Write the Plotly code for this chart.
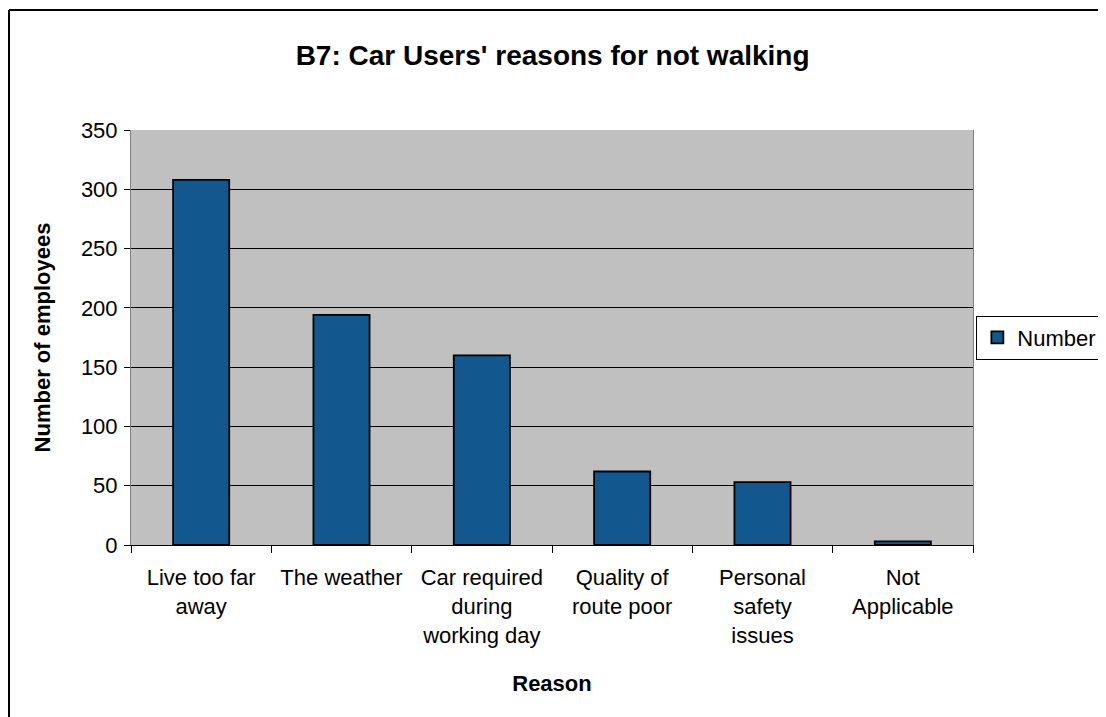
import plotly.graph_objects as go

# ── DATA ─────────────────────────────────────
reasons = [
    "Live too far<br>away",
    "The weather",
    "Car required<br>during<br>working day",
    "Quality of<br>route poor",
    "Personal<br>safety<br>issues",
    "Not<br>Applicable",
]
numbers = [308, 194, 160, 62, 53, 3]
y_ticks = [0, 50, 100, 150, 200, 250, 300, 350]

# ── LAYOUT CONSTANTS ─────────────────────────
# page has an 8px body margin, so the figure is shrunk to fit the window
W, H = 1098, 709
M = dict(l=123, r=133, t=122, b=172)
FONT = "Liberation Sans, Arial, sans-serif"
BAR_COLOR = "#12578D"

fig = go.Figure(go.Bar(
    x=reasons,
    y=numbers,
    name="Number",
    width=0.4,
    marker=dict(color=BAR_COLOR, line=dict(color="#000000", width=1.8)),
))

pw = W - M["l"] - M["r"]
ph = H - M["t"] - M["b"]
# chart-area frame (left and top edges visible, rest cropped)
fx = (1 - M["l"]) / pw
fy = (H - M["b"] - 2) / ph
fig.add_shape(type="line", xref="paper", yref="paper", x0=fx, x1=fx, y0=-0.5, y1=fy,
              line=dict(color="#000000", width=2))
fig.add_shape(type="line", xref="paper", yref="paper", x0=fx, x1=1.5, y0=fy, y1=fy,
              line=dict(color="#000000", width=2))

fig.update_layout(
    width=W, height=H,
    margin=dict(**M, autoexpand=False),
    paper_bgcolor="#ffffff",
    plot_bgcolor="#C0C0C0",
    font=dict(family=FONT, color="#000000", size=22),
    title=dict(
        text="<b>B7: Car Users' reasons for not walking</b>",
        x=0.496, xref="container", xanchor="center",
        y=(H - 47) / H, yref="container", yanchor="middle",
        font=dict(size=28),
    ),
    showlegend=True,
    legend=dict(
        x=1.004, xanchor="left",
        y=0.5, yanchor="middle",
        bordercolor="#000000", borderwidth=1,
        bgcolor="#ffffff",
        font=dict(size=22),
        itemwidth=30,
    ),
    xaxis=dict(
        type="category",
        tickson="boundaries",
        ticks="outside", ticklen=7, tickcolor="#000000",
        ticklabelstandoff=13,
        showline=True, linecolor="#000000", linewidth=1,
        mirror=False,
        showgrid=False,
        tickfont=dict(size=22),
        title=dict(text="<b>Reason</b>", font=dict(size=22), standoff=29),
    ),
    yaxis=dict(
        range=[0, 350],
        tickvals=y_ticks,
        ticks="outside", ticklen=6, tickcolor="#000000",
        ticklabelstandoff=2,
        showline=True, linecolor="#808080", linewidth=1,
        mirror=True,
        showgrid=True, gridcolor="#000000", gridwidth=1,
        zeroline=False,
        tickfont=dict(size=22),
        title=dict(text="<b>Number of employees</b>", font=dict(size=22), standoff=24),
    ),
)

fig.write_html("out.html")
